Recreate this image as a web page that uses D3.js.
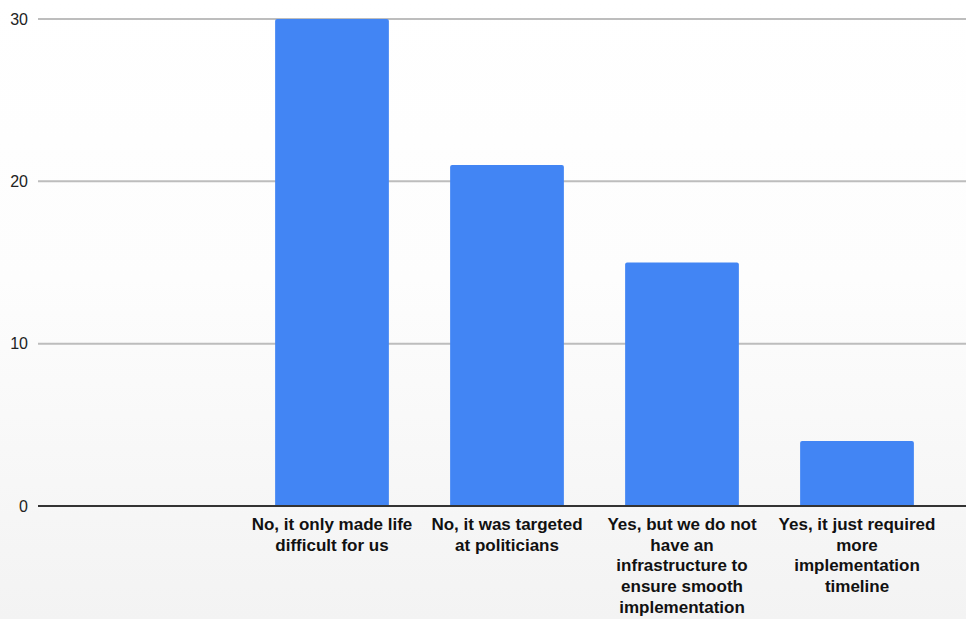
<!DOCTYPE html>
<html>
<head>
<meta charset="utf-8">
<script src="https://cdn.jsdelivr.net/npm/d3@7"></script>
<style>
  body { margin: 0; background: #fff; }
  svg { display: block; }
</style>
</head>
<body>
<div class="chart"></div>
<script>
// data
const categories = ["",
    "No, it only made life\ndifficult for us",
    "No, it was targeted\nat politicians",
    "Yes, but we do not\nhave an\ninfrastructure to\nensure smooth\nimplementation",
    "Yes, it just required\nmore\nimplementation\ntimeline"]
const values = [null, 30, 21, 15, 4]
const yTicks = [0, 10, 20, 30]

const width = 966
const height = 619
const margin = ({ top: 19, right: 0, bottom: 113, left: 38 })

const svg = d3.select(".chart")
    .append("svg")
    .attr("width", width)
    .attr("height", height)

// faint paper-like background getting greyer towards the bottom
const defs = svg.append("defs")
const grad = defs.append("linearGradient")
    .attr("id", "bg")
    .attr("x1", 0).attr("y1", 0).attr("x2", 0).attr("y2", 1)
grad.append("stop").attr("offset", "0%").attr("stop-color", "#ffffff")
grad.append("stop").attr("offset", "45%").attr("stop-color", "#fdfdfd")
grad.append("stop").attr("offset", "100%").attr("stop-color", "#f3f3f3")
svg.append("rect")
    .attr("width", width)
    .attr("height", height)
    .attr("fill", "url(#bg)")

// scales
const xScale = d3.scaleBand()
    .domain(categories)
    .range([69.5, 944.5])
    .paddingInner(0.35)
    .paddingOuter(0.175)

const yScale = d3.scaleLinear()
    .domain([0, 30])
    .range([height - margin.bottom, margin.top])

// gridlines
svg.append("g")
    .selectAll("line")
    .data(yTicks.filter(d => d !== 0))
    .join("line")
    .attr("x1", margin.left)
    .attr("x2", width - margin.right)
    .attr("y1", d => yScale(d))
    .attr("y2", d => yScale(d))
    .attr("stroke", "#bdbdbd")
    .attr("stroke-width", 2)

// y tick labels
svg.append("g")
    .selectAll("text")
    .data(yTicks)
    .join("text")
    .attr("x", 28)
    .attr("y", d => yScale(d))
    .attr("dy", "0.35em")
    .attr("text-anchor", "end")
    .attr("font-family", "Arial, 'Liberation Sans', sans-serif")
    .attr("font-size", 16)
    .attr("fill", "#222")
    .text(d => d)

// bars
const barData = categories.map((c, i) => ({ cat: c, val: values[i] })).filter(d => d.val != null)
svg.append("g")
    .selectAll("path")
    .data(barData)
    .join("path")
    .attr("fill", "#4285f4")
    .attr("d", d => {
        const x0 = xScale(d.cat), x1 = x0 + xScale.bandwidth()
        const y0 = yScale(d.val), y1 = yScale(0)
        const r = 2
        return `M${x0},${y1}V${y0 + r}Q${x0},${y0} ${x0 + r},${y0}H${x1 - r}Q${x1},${y0} ${x1},${y0 + r}V${y1}Z`
    })

// baseline
svg.append("line")
    .attr("x1", margin.left)
    .attr("x2", width - margin.right)
    .attr("y1", yScale(0))
    .attr("y2", yScale(0))
    .attr("stroke", "#333")
    .attr("stroke-width", 2)

// x labels
const xLabels = svg.append("g")
    .selectAll("text")
    .data(categories.filter(c => c !== ""))
    .join("text")
    .attr("text-anchor", "middle")
    .attr("font-family", "Arial, 'Liberation Sans', sans-serif")
    .attr("font-weight", "bold")
    .attr("font-size", 17)
    .attr("fill", "#111")
    .attr("transform", d => "translate(" + (xScale(d) + xScale.bandwidth() / 2) + "," + (yScale(0) + 24) + ")")

xLabels.selectAll("tspan")
    .data(d => d.split("\n"))
    .join("tspan")
    .attr("x", 0)
    .attr("y", (d, i) => i * 20.7)
    .text(d => d)
</script>
</body>
</html>
